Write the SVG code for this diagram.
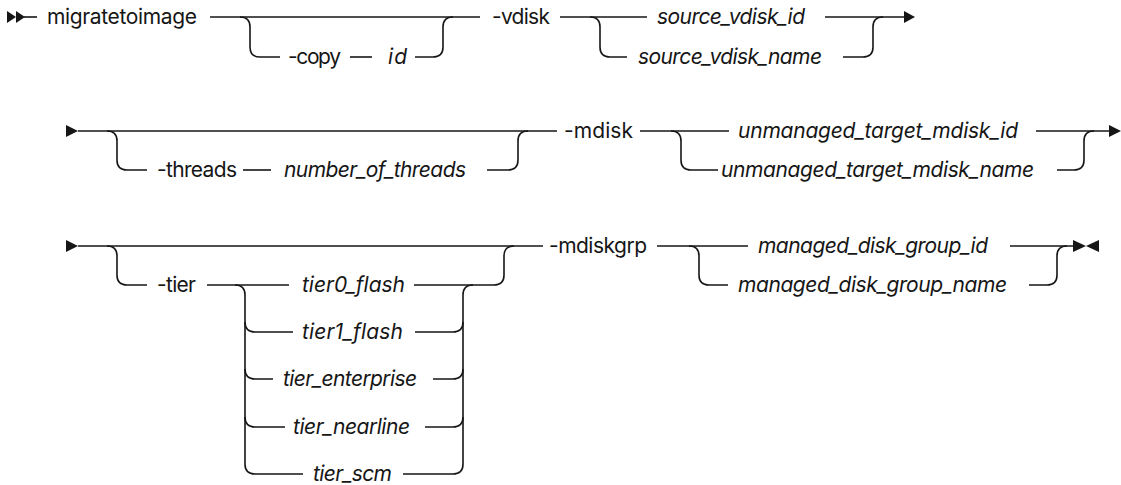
<svg xmlns="http://www.w3.org/2000/svg" width="1121" height="485" viewBox="0 0 1121 485">
<style>
.ln{fill:none;stroke:#161616;stroke-width:1.6}
.mk{fill:#161616;stroke:none}
.t{font-family:Inter,"Liberation Sans",Arial,sans-serif;font-size:21px;fill:#161616}
.v{font-style:italic}
</style>
<rect width="1121" height="485" fill="#ffffff"/>
<g id="connectors">
<path class="ln" d="M24,17 H37"/>
<path class="ln" d="M210,17 H480"/>
<path class="ln" d="M240,17 Q250,17 250,27 V47 Q250,57 260,57 H280"/>
<path class="ln" d="M350,57 H372"/>
<path class="ln" d="M415,57 H433 Q443,57 443,47 V27 Q443,17 453,17"/>
<path class="ln" d="M560,17 H647"/>
<path class="ln" d="M590,17 Q600,17 600,27 V47 Q600,57 610,57 H627"/>
<path class="ln" d="M825,17 H906"/>
<path class="ln" d="M843,57 H863 Q873,57 873,47 V27 Q873,17 883,17"/>
<polygon class="mk" points="904,11 915,17 904,23"/>

<polygon class="mk" points="66,125 78,131 66,137"/>
<path class="ln" d="M78,131 H557"/>
<path class="ln" d="M107,131 Q117,131 117,141 V160 Q117,170 127,170 H147"/>
<path class="ln" d="M243,170 H271"/>
<path class="ln" d="M487,170 H508 Q518,170 518,160 V141 Q518,131 528,131"/>
<path class="ln" d="M640,131 H729"/>
<path class="ln" d="M671,131 Q681,131 681,141 V160 Q681,170 691,170 H718"/>
<path class="ln" d="M1036,131 H1111"/>
<path class="ln" d="M1057,170 H1074 Q1084,170 1084,160 V141 Q1084,131 1094,131"/>
<polygon class="mk" points="1109,125 1121,131 1109,137"/>

<polygon class="mk" points="66,240 78,246 66,252"/>
<path class="ln" d="M78,246 H543"/>
<path class="ln" d="M107,246 Q117,246 117,256 V275 Q117,285 127,285 H147"/>
<path class="ln" d="M207,285 H289"/>
<path class="ln" d="M235,285 Q245,285 245,295 V464 Q245,474 255,474 H303"/>
<path class="ln" d="M245,322 Q245,332 255,332 H293"/>
<path class="ln" d="M245,369 Q245,379 255,379 H273"/>
<path class="ln" d="M245,417 Q245,427 255,427 H285"/>
<path class="ln" d="M414,285 H494 Q504,285 504,275 V256 Q504,246 514,246"/>
<path class="ln" d="M403,474 H453 Q463,474 463,464 V295 Q463,285 473,285"/>
<path class="ln" d="M415,332 H453 Q463,332 463,322"/>
<path class="ln" d="M433,379 H453 Q463,379 463,369"/>
<path class="ln" d="M425,427 H453 Q463,427 463,417"/>
<path class="ln" d="M657,246 H748"/>
<path class="ln" d="M689,246 Q699,246 699,256 V275 Q699,285 709,285 H728"/>
<path class="ln" d="M1010,246 H1074"/>
<path class="ln" d="M1029,285 H1047 Q1057,285 1057,275 V256 Q1057,246 1067,246"/>
<polygon class="mk" points="1073,240 1086,246 1073,252"/>
<polygon class="mk" points="1099,240 1086,246 1099,252"/>
</g>
<g id="start"><polygon class="mk" points="7,11 16,17 7,23"/><polygon class="mk" points="16,11 25,17 16,23"/></g>
<g id="n-migratetoimage"><text class="t" x="47" y="24" textLength="150">migratetoimage</text></g>
<g id="n-copy"><text class="t" x="288" y="64" textLength="53">-copy</text></g>
<g id="n-id"><text class="t v" x="388" y="64" textLength="19">id</text></g>
<g id="n-vdisk"><text class="t" x="492" y="24" textLength="58">-vdisk</text></g>
<g id="n-source_vdisk_id"><text class="t v" x="657" y="24" textLength="148">source_vdisk_id</text></g>
<g id="n-source_vdisk_name"><text class="t v" x="638" y="64" textLength="184">source_vdisk_name</text></g>
<g id="n-threads"><text class="t" x="157" y="177" textLength="80">-threads</text></g>
<g id="n-number_of_threads"><text class="t v" x="284" y="177" textLength="182">number_of_threads</text></g>
<g id="n-mdisk"><text class="t" x="564" y="138" textLength="69">-mdisk</text></g>
<g id="n-umt_id"><text class="t v" x="738" y="138" textLength="280">unmanaged_target_mdisk_id</text></g>
<g id="n-umt_name"><text class="t v" x="721" y="177" textLength="313">unmanaged_target_mdisk_name</text></g>
<g id="n-tier"><text class="t" x="157" y="292" textLength="39">-tier</text></g>
<g id="n-tier0"><text class="t v" x="302" y="292" textLength="103">tier0_flash</text></g>
<g id="n-tier1"><text class="t v" x="302" y="339" textLength="101">tier1_flash</text></g>
<g id="n-tier_enterprise"><text class="t v" x="283" y="386" textLength="134">tier_enterprise</text></g>
<g id="n-tier_nearline"><text class="t v" x="293" y="434" textLength="117">tier_nearline</text></g>
<g id="n-tier_scm"><text class="t v" x="313" y="481" textLength="79">tier_scm</text></g>
<g id="n-mdiskgrp"><text class="t" x="549" y="253" textLength="98">-mdiskgrp</text></g>
<g id="n-mdg_id"><text class="t v" x="758" y="253" textLength="230">managed_disk_group_id</text></g>
<g id="n-mdg_name"><text class="t v" x="738" y="292" textLength="269">managed_disk_group_name</text></g>
</svg>
